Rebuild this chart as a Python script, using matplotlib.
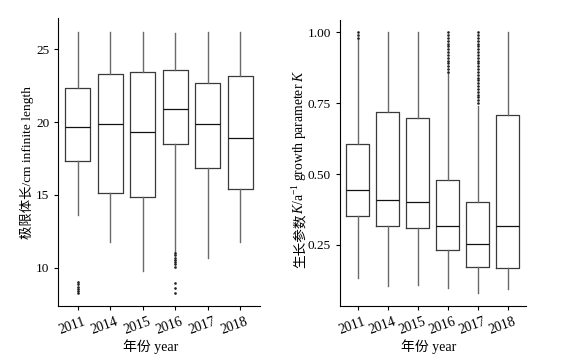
import matplotlib
matplotlib.use('Agg')
import matplotlib.pyplot as plt
import matplotlib.transforms as mtransforms

plt.rcParams['font.family'] = ['Liberation Serif', 'Noto Sans CJK SC']
plt.rcParams['font.size'] = 10
plt.rcParams['mathtext.fontset'] = 'custom'
plt.rcParams['mathtext.rm'] = 'Liberation Serif'
plt.rcParams['mathtext.it'] = 'Liberation Serif:italic'

years = ['2011', '2014', '2015', '2016', '2017', '2018']

# infinite length (cm): whisker low, Q1, median, Q3, whisker high
len_lo = [13.6, 11.75, 9.75, 11.1, 10.7, 11.8]
len_q1 = [17.35, 15.12, 14.85, 18.5, 16.88, 15.4]
len_med = [19.68, 19.86, 19.36, 20.9, 19.86, 18.92]
len_q3 = [22.34, 23.3, 23.44, 23.62, 22.68, 23.18]
len_hi = [26.2, 26.2, 26.2, 26.15, 26.2, 26.2]
len_fliers = [
    [8.25, 8.4, 8.55, 8.7, 8.85, 9.0],
    [],
    [],
    [8.25, 8.6, 8.98, 10.08, 10.25, 10.4, 10.55, 10.7, 10.85, 11.0],
    [],
    [],
]

# growth parameter K (1/a)
k_lo = [0.132, 0.105, 0.108, 0.10, 0.08, 0.094]
k_q1 = [0.352, 0.317, 0.311, 0.232, 0.174, 0.168]
k_med = [0.445, 0.408, 0.40, 0.318, 0.255, 0.316]
k_q3 = [0.605, 0.718, 0.697, 0.479, 0.40, 0.707]
k_hi = [0.975, 1.0, 1.0, 0.855, 0.74, 1.0]
k_fliers = [
    [0.98, 0.99, 1.0],
    [],
    [],
    [0.86, 0.87, 0.88, 0.89, 0.90, 0.91, 0.92, 0.93, 0.94, 0.95, 0.96,
     0.97, 0.98, 0.99, 1.0],
    [0.75, 0.76, 0.77, 0.78, 0.79, 0.80, 0.81, 0.82, 0.83, 0.84, 0.85,
     0.86, 0.87, 0.88, 0.89, 0.90, 0.91, 0.92, 0.93, 0.94, 0.95, 0.96,
     0.97, 0.98, 0.99, 1.0],
    [],
]


def make_stats(lo, q1, med, q3, hi, fliers):
    stats = []
    for i in range(len(lo)):
        stats.append(dict(whislo=lo[i], q1=q1[i], med=med[i], q3=q3[i],
                          whishi=hi[i], fliers=fliers[i], label=years[i]))
    return stats


def draw_panel(ax, stats):
    ax.bxp(stats, positions=range(len(stats)), widths=0.77,
           showcaps=False,
           boxprops=dict(color='#3a3a3a', linewidth=0.9),
           whiskerprops=dict(color='#6a6a6a', linewidth=1.0),
           medianprops=dict(color='#111111', linewidth=0.9),
           flierprops=dict(marker='o', markersize=0.9, markerfacecolor='#222222',
                           markeredgecolor='#222222', linestyle='none'))
    ax.set_xlim(-0.6, 5.6)
    ax.spines['top'].set_visible(False)
    ax.spines['right'].set_visible(False)
    ax.tick_params(direction='out', length=3, width=0.8)
    ax.tick_params(axis='y', labelsize=9.5)
    ax.tick_params(axis='x', labelsize=10)
    ax.set_xticks(range(len(years)))
    ax.set_xticklabels(years, rotation=20, ha='center')
    offset = mtransforms.ScaledTranslation(-6 / 100, 0, ax.figure.dpi_scale_trans)
    for lab in ax.get_xticklabels():
        lab.set_transform(lab.get_transform() + offset)
    ax.set_xlabel('年份 year', fontsize=10, labelpad=0)


fig = plt.figure(figsize=(5.71, 3.57), dpi=100)
ax1 = fig.add_axes([0.102, 0.143, 0.353, 0.806])
ax2 = fig.add_axes([0.595, 0.143, 0.326, 0.801])

draw_panel(ax1, make_stats(len_lo, len_q1, len_med, len_q3, len_hi, len_fliers))
ax1.set_ylim(7.37, 27.15)
ax1.set_yticks([10, 15, 20, 25])
ax1.set_ylabel('极限体长/cm infinite length', fontsize=9.6)
ax1.yaxis.set_label_coords(-0.12, 0.5)
ax1.xaxis.set_label_coords(0.46, -0.115)

draw_panel(ax2, make_stats(k_lo, k_q1, k_med, k_q3, k_hi, k_fliers))
ax2.set_ylim(0.035, 1.043)
ax2.set_yticks([0.25, 0.5, 0.75, 1.0])
ax2.set_yticklabels(['0.25', '0.50', '0.75', '1.00'])
ax2.xaxis.set_label_coords(0.48, -0.115)

# right y label: CJK part and math part drawn as two texts, stacked upward
label_x = 300 / 571
label_y0 = 1 - 268 / 357
t1 = fig.text(label_x, label_y0, '生长参数', rotation=90, fontsize=9.8,
              ha='center', va='bottom')
fig.canvas.draw()
bb = t1.get_window_extent()
top = bb.y1 / fig.bbox.height
fig.text(label_x, top, r'$K$/a$^{-1}$ growth parameter $K$', rotation=90,
         fontsize=9.8, ha='center', va='bottom')

fig.savefig('out.png', dpi=100)
